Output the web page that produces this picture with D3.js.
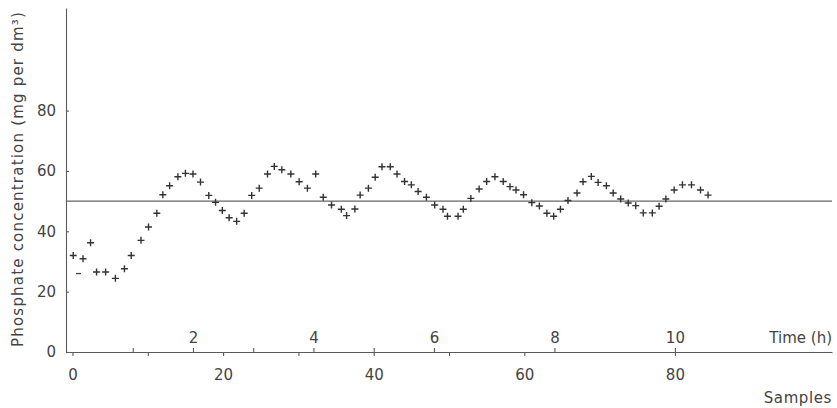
<!DOCTYPE html>
<html>
<head>
<meta charset="utf-8">
<script src="https://cdn.jsdelivr.net/npm/d3@7/dist/d3.min.js"></script>
<style>
  body { margin: 0; background: #fff; }
  text { font-family: "DejaVu Sans", sans-serif; fill: #444; }
</style>
</head>
<body>
<div id="chart-area"></div>
<script>
// samples (sample number, phosphate mg per dm3)
var sampleNo = [0.1, 1.4, 2.4, 3.2, 4.4, 5.7, 6.9, 7.8, 9.1, 10.1, 11.2, 12.0, 12.9, 14.0, 15.0, 16.0,
    17.0, 18.1, 19.0, 19.9, 20.8, 21.8, 22.8, 23.8, 24.8, 25.9, 26.8, 27.8, 29.0, 30.1, 31.2, 32.3,
    33.3, 34.4, 35.7, 36.4, 37.5, 38.2, 39.3, 40.2, 41.1, 42.2, 43.1, 44.1, 45.0, 45.9, 47.0, 48.1,
    49.2, 49.8, 51.2, 51.9, 52.9, 54.0, 55.0, 56.1, 57.2, 58.1, 58.9, 59.9, 61.0, 62.0, 63.0, 63.9,
    64.8, 65.8, 67.0, 67.8, 68.9, 69.8, 70.9, 71.8, 72.8, 73.8, 74.8, 75.8, 77.0, 77.9, 78.8, 79.9,
    81.0, 82.2, 83.4, 84.4];
var phosphate = [32.0, 30.9, 36.2, 26.5, 26.5, 24.4, 27.6, 32.0, 37.0, 41.4, 46.0, 52.1, 55.1, 58.1, 59.2, 59.0,
    56.3, 51.9, 49.6, 46.9, 44.5, 43.3, 46.0, 51.9, 54.3, 59.0, 61.5, 60.4, 59.0, 56.4, 54.3, 59.0,
    51.3, 48.7, 47.3, 45.2, 47.4, 52.0, 54.3, 57.9, 61.4, 61.4, 59.0, 56.5, 55.4, 53.2, 51.3, 48.7,
    47.3, 45.0, 45.0, 47.3, 50.9, 54.0, 56.5, 58.1, 56.5, 54.8, 53.7, 52.1, 49.5, 48.4, 46.0, 45.0,
    47.3, 50.2, 52.7, 56.4, 58.2, 56.2, 55.1, 52.7, 50.7, 49.4, 48.5, 46.1, 46.1, 48.3, 50.7, 53.7,
    55.4, 55.4, 53.7, 52.0];
// odd reading drawn as a dash
var dashSample = [0.8];
var dashValue = [26.0];

var targetLevel = 50;
var samplesPerHour = 8;
var yTicks = [0, 20, 40, 60, 80];
var sampleTicks = [0, 10, 20, 30, 40, 50, 60, 80];
var hourTicks = [1, 2, 3, 4, 5, 6, 8, 10];

var svg = d3.select('#chart-area')
    .append('svg')
        .attr('width', 837)
        .attr('height', 408);

var x = d3.scaleLinear()
    .domain([-0.86, 100.86])
    .range([66, 832]);

var t = d3.scaleLinear()
    .domain(x.domain().map(d => d / samplesPerHour))
    .range(x.range());

var y = d3.scaleLinear()
    .domain([0, 114])
    .range([352, 8]);

// y axis, ticks pointing inwards
var yAxisCall = d3.axisLeft(y)
    .tickValues(yTicks)
    .tickSize(-3)
    .tickSizeOuter(0)
    .tickPadding(10);
svg.append('g')
    .attr('class', 'y-axis')
    .attr('transform', 'translate(' + x.range()[0] + ',0)')
    .call(yAxisCall);

// samples below the line
var xAxisCall = d3.axisBottom(x)
    .tickValues(sampleTicks)
    .tickSize(4)
    .tickSizeOuter(0)
    .tickPadding(13)
    .tickFormat(d => d % 20 === 0 ? d : '');
svg.append('g')
    .attr('class', 'x-axis')
    .attr('transform', 'translate(0,' + y(0) + ')')
    .call(xAxisCall);

// hours above the line
var tAxisCall = d3.axisTop(t)
    .tickValues(hourTicks)
    .tickSize(4)
    .tickSizeOuter(0)
    .tickPadding(5)
    .tickFormat(d => d % 2 === 0 ? d : '');
var tAxis = svg.append('g')
    .attr('class', 't-axis')
    .attr('transform', 'translate(0,' + y(0) + ')')
    .call(tAxisCall);
tAxis.select('.domain').remove();

svg.selectAll('.domain, .tick line')
    .attr('stroke', '#5a5a5a')
    .attr('stroke-width', 1.1);
svg.selectAll('.tick text')
    .style('font-size', '15px')
    .style('fill', '#444');

// reference level
svg.append('line')
    .attr('x1', x.range()[0])
    .attr('x2', x.range()[1])
    .attr('y1', y(targetLevel))
    .attr('y2', y(targetLevel))
    .attr('stroke', '#666')
    .attr('stroke-width', 1.2);

var pts = sampleNo.map((s, i) => ({ s: s, v: phosphate[i] }));

svg.selectAll('path.pt')
    .data(pts)
    .enter()
    .append('path')
        .attr('class', 'pt')
        .attr('transform', d => 'translate(' + x(d.s) + ',' + y(d.v) + ')')
        .attr('d', 'M-3.5,0H3.5M0,-3.5V3.5')
        .attr('stroke', '#333')
        .attr('stroke-width', 1.4)
        .attr('fill', 'none');

svg.selectAll('path.dash')
    .data(dashSample.map((s, i) => ({ s: s, v: dashValue[i] })))
    .enter()
    .append('path')
        .attr('class', 'dash')
        .attr('transform', d => 'translate(' + x(d.s) + ',' + y(d.v) + ')')
        .attr('d', 'M-2.5,0H2.5')
        .attr('stroke', '#444')
        .attr('stroke-width', 1.3);

// titles
svg.append('text')
    .attr('x', x.range()[1])
    .attr('y', 343)
    .attr('text-anchor', 'end')
    .style('font-size', '15px')
    .text('Time (h)');

svg.append('text')
    .attr('x', x.range()[1])
    .attr('y', 403)
    .attr('text-anchor', 'end')
    .style('font-size', '15px')
    .style('letter-spacing', '0.6px')
    .text('Samples');

svg.append('text')
    .attr('transform', 'translate(22.5,179) rotate(-90)')
    .attr('text-anchor', 'middle')
    .style('font-size', '15px')
    .style('letter-spacing', '1.2px')
    .text('Phosphate concentration (mg per dm³)');
</script>
</body>
</html>
